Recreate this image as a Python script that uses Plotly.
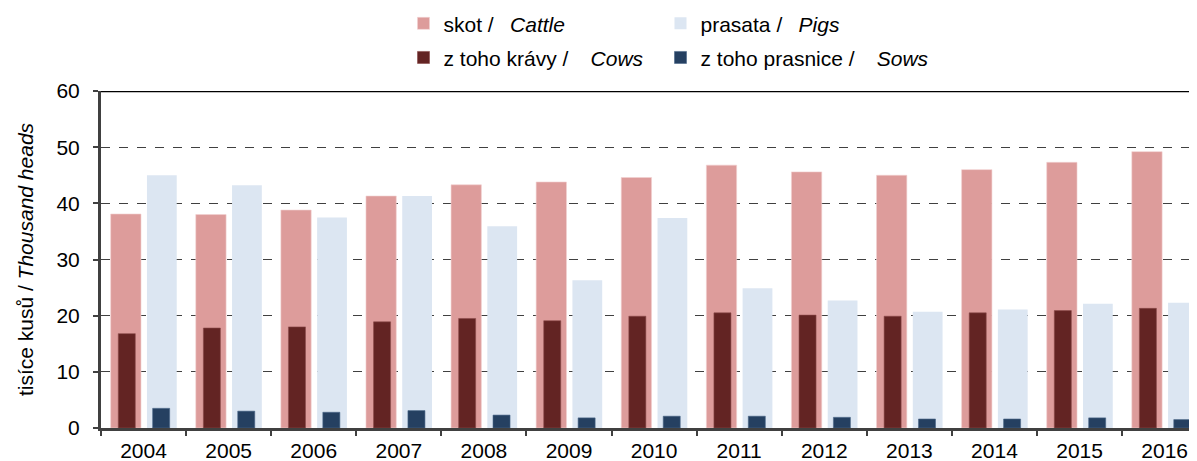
import plotly.graph_objects as go

years = ["2004", "2005", "2006", "2007", "2008", "2009", "2010", "2011", "2012", "2013", "2014", "2015", "2016"]
cattle = [38.1, 38.0, 38.8, 41.3, 43.3, 43.8, 44.6, 46.8, 45.6, 45.0, 46.0, 47.3, 49.2]
pigs = [45.0, 43.2, 37.5, 41.3, 35.9, 26.3, 37.4, 24.9, 22.7, 20.7, 21.1, 22.1, 22.3]
cows = [16.8, 17.8, 18.0, 18.9, 19.5, 19.1, 19.9, 20.5, 20.1, 19.9, 20.5, 20.9, 21.3]
sows = [3.5, 3.0, 2.8, 3.1, 2.3, 1.8, 2.1, 2.1, 1.9, 1.6, 1.6, 1.8, 1.5]

names = {
    "cattle": "skot /\u00a0\u2002<i>Cattle</i>",
    "pigs": "prasata /\u00a0\u2002<i>Pigs</i>",
    "cows": "z toho krávy /\u00a0\u00a0\u2002<i>Cows</i>",
    "sows": "z toho prasnice /\u00a0\u00a0\u2002<i>Sows</i>",
}

FONT = "Liberation Sans, Arial, sans-serif"
W, H = 1189, 453  # page body has an 8px margin

fig = go.Figure()
fig.add_trace(go.Bar(x=years, y=cattle, name=names["cattle"], marker=dict(color="#DD9C9B", line=dict(width=0.6, color="#F2D0D0")),
                     width=0.356, offset=-0.386, legend="legend"))
fig.add_trace(go.Bar(x=years, y=pigs, name=names["pigs"], marker=dict(color="#DCE6F2", line=dict(width=0)),
                     width=0.350, offset=0.04, legend="legend2"))
fig.add_trace(go.Bar(x=years, y=cows, name=names["cows"], marker=dict(color="#632423", line=dict(width=0.6, color="#8A4A49")),
                     width=0.2, offset=-0.297, legend="legend3"))
fig.add_trace(go.Bar(x=years, y=sows, name=names["sows"], marker=dict(color="#254061", line=dict(width=0.6, color="#4A6688")),
                     width=0.2, offset=0.107, legend="legend4"))


def leg(xpx, ypx):
    return dict(orientation="h", xref="container", yref="container", x=xpx / W, xanchor="left",
                y=1 - ypx / H, yanchor="middle", font=dict(size=21), itemclick=False,
                bgcolor="rgba(0,0,0,0)")


fig.update_layout(
    width=W, height=H,
    barmode="overlay",
    plot_bgcolor="white", paper_bgcolor="white",
    margin=dict(l=93, r=0, t=83, b=33),
    font=dict(family=FONT, size=21, color="#000000"),
    showlegend=True,
    legend=leg(395.5, 15.7),
    legend2=leg(652.5, 15.7),
    legend3=leg(395.5, 49.8),
    legend4=leg(652.5, 49.8),
    xaxis=dict(type="category", range=[-0.5, 12.38], tickson="boundaries", ticks="outside", ticklen=5,
               tickwidth=2, tickcolor="#404040", showline=True, linecolor="#404040", linewidth=3,
               showgrid=False, tickfont=dict(size=21), ticklabelstandoff=2, automargin=False),
    yaxis=dict(range=[0, 60], tickvals=[0, 10, 20, 30, 40, 50, 60], ticks="outside", ticklen=5,
               tickwidth=2, tickcolor="#404040", showline=True, linecolor="#404040", linewidth=3,
               showgrid=True, gridcolor="#404040", griddash="dash", gridwidth=1.3, zeroline=False,
               tickfont=dict(size=21), ticklabelstandoff=9, automargin=False,
               title=dict(text="tisíce kusů / <i>Thousand heads</i>", font=dict(size=21), standoff=18)),
    shapes=[dict(type="line", xref="paper", yref="y", x0=0, x1=1, y0=60, y1=60,
                 line=dict(color="#000000", width=2.5), layer="above")],
)

fig.write_html("out.html")
